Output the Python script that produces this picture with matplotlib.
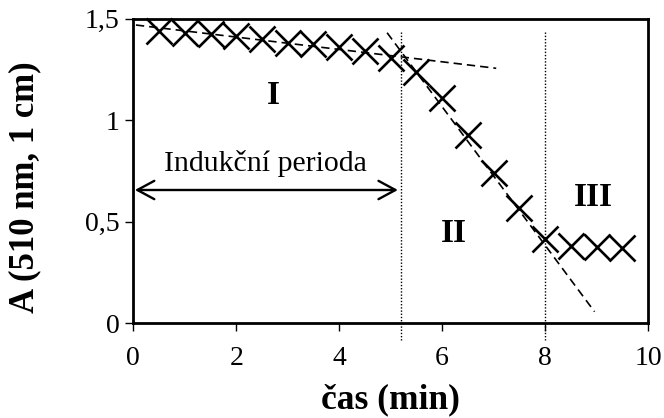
import matplotlib
matplotlib.use("Agg")
import matplotlib.pyplot as plt
import numpy as np

plt.rcParams['font.family'] = ['Liberation Serif', 'DejaVu Serif']

# measured absorbance
cas = [0.5, 1.0, 1.5, 2.0, 2.5, 3.0, 3.5, 4.0, 4.5, 5.0,
       5.5, 6.0, 6.5, 7.0, 7.5, 8.0, 8.5, 9.0, 9.5]
absorb = [1.440, 1.430, 1.424, 1.415, 1.398, 1.381, 1.375, 1.361, 1.342, 1.307,
          1.238, 1.107, 0.927, 0.738, 0.569, 0.415, 0.380, 0.374, 0.369]

# trend lines (end points)
trend1_x = [0.05, 7.05]
trend1_y = [1.468, 1.255]
trend2_x = [4.93, 8.96]
trend2_y = [1.43, 0.057]

# phase borders
hranice = [5.2, 8.0]

xticks = [0, 2, 4, 6, 8, 10]
yticks = [0, 0.5, 1, 1.5]
ytick_labels = ['0', '0,5', '1', '1,5']

fig = plt.figure(figsize=(6.64, 4.18), dpi=100)
ax = fig.add_axes([0.2008, 0.2266, 0.7752, 0.7291])

ax.plot(cas, absorb, 'x', color='black', markersize=19, markeredgewidth=1.9,
        clip_on=False, zorder=3)
ax.plot(trend1_x, trend1_y, color='black', lw=1.2, dashes=(5, 3), zorder=2)
ax.plot(trend2_x, trend2_y, color='black', lw=1.2, dashes=(5, 3), zorder=2)

for h in hranice:
    ax.plot([h, h], [1.435, -0.08], color='black', lw=1.0,
            linestyle=(0, (1, 1.3)), clip_on=False, zorder=1)

ax.annotate('', xy=(0.03, 0.656), xytext=(5.14, 0.656),
            arrowprops=dict(arrowstyle='<->,head_length=0.61,head_width=0.33',
                            lw=1.7, color='black', shrinkA=0, shrinkB=0,
                            mutation_scale=20))
ax.text(2.56, 0.785, 'Indukční perioda', fontsize=21.5, ha='center', va='center')

ax.text(2.73, 1.12, 'I', fontsize=24, fontweight='bold', ha='center', va='center')
ax.text(6.22, 0.443, 'II', fontsize=24, fontweight='bold', ha='center', va='center')
ax.text(8.93, 0.62, 'III', fontsize=24, fontweight='bold', ha='center', va='center')

ax.set_xlim(0, 10)
ax.set_ylim(0, 1.5)
ax.set_xticks(xticks)
ax.set_yticks(yticks)
ax.set_yticklabels(ytick_labels)
ax.tick_params(direction='out', length=6, width=1, labelsize=20)
ax.tick_params(axis='x', pad=10)
ax.tick_params(axis='y', pad=4)
for s in ax.spines.values():
    s.set_linewidth(2)

ax.set_xlabel('čas (min)', fontsize=25.5, fontweight='bold', labelpad=9)
ax.set_ylabel('A (510 nm, 1 cm)', fontsize=25, fontweight='bold')
ax.yaxis.set_label_coords(-0.178, 0.445)

fig.savefig('out.png', dpi=100)
